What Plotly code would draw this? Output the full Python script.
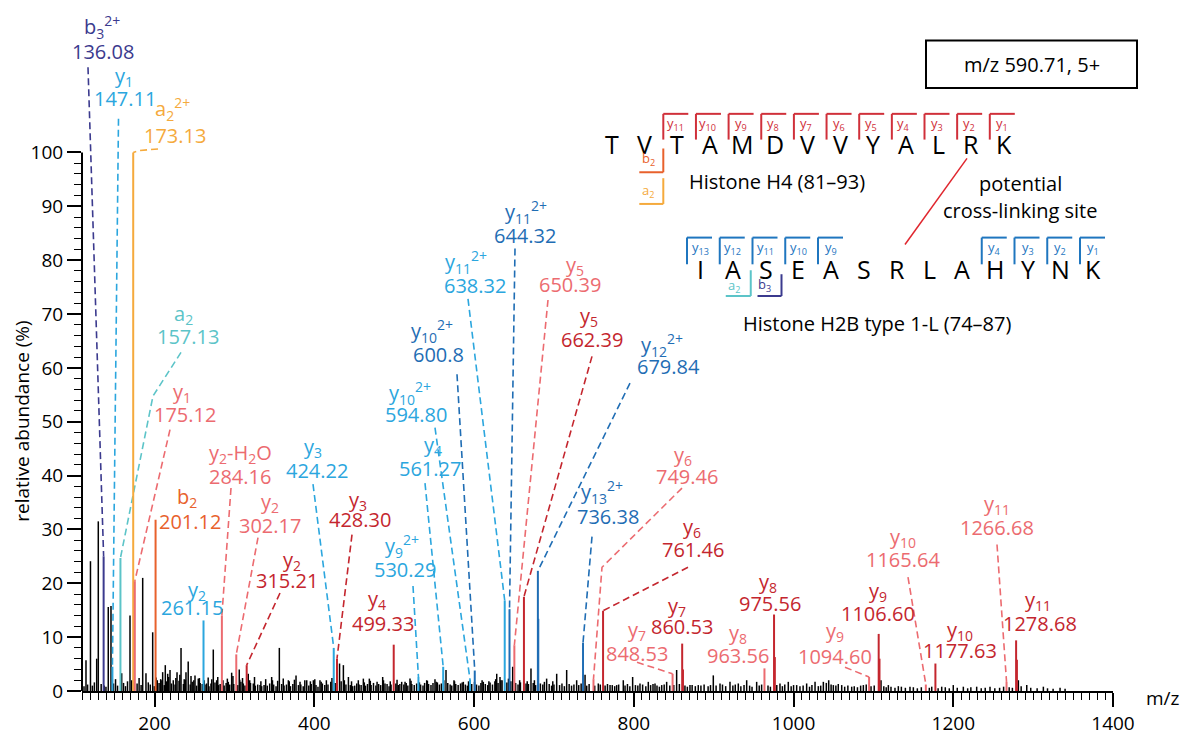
import plotly.graph_objects as go

# ---------------- spectrum data ----------------
# Annotated fragment ions: label text, m/z text (as printed), relative abundance, series
ion_name = [
    "b<sub>3</sub><sup>2+</sup>", "y<sub>1</sub>", "a<sub>2</sub>", "a<sub>2</sub><sup>2+</sup>",
    "y<sub>1</sub>", "b<sub>2</sub>", "y<sub>2</sub>", "y<sub>2</sub>-H<sub>2</sub>O",
    "y<sub>2</sub>", "y<sub>2</sub>", "y<sub>3</sub>", "y<sub>3</sub>", "y<sub>4</sub>",
    "y<sub>9</sub><sup>2+</sup>", "y<sub>4</sub>", "y<sub>10</sub><sup>2+</sup>",
    "y<sub>10</sub><sup>2+</sup>", "y<sub>11</sub><sup>2+</sup>", "y<sub>11</sub><sup>2+</sup>",
    "y<sub>5</sub>", "y<sub>5</sub>", "y<sub>12</sub><sup>2+</sup>", "y<sub>13</sub><sup>2+</sup>",
    "y<sub>6</sub>", "y<sub>6</sub>", "y<sub>7</sub>", "y<sub>7</sub>", "y<sub>8</sub>",
    "y<sub>8</sub>", "y<sub>9</sub>", "y<sub>9</sub>", "y<sub>10</sub>", "y<sub>10</sub>",
    "y<sub>11</sub>", "y<sub>11</sub>",
]
ion_mz_text = [
    "136.08", "147.11", "157.13", "173.13", "175.12", "201.12", "261.15", "284.16",
    "302.17", "315.21", "424.22", "428.30", "499.33", "530.29", "561.27", "594.80",
    "600.8", "638.32", "644.32", "650.39", "662.39", "679.84", "736.38", "749.46",
    "761.46", "848.53", "860.53", "963.56", "975.56", "1094.60", "1106.60", "1165.64",
    "1177.63", "1266.68", "1278.68",
]
ion_intensity = [
    25.0, 4.5, 24.7, 100.0, 20.4, 31.8, 13.1, 14.0, 6.8, 4.8, 8.0, 6.0, 8.6, 2.6, 4.5,
    2.2, 3.8, 16.8, 15.2, 8.5, 17.5, 22.3, 9.0, 2.2, 14.9, 3.2, 8.8, 4.2, 14.2, 2.6,
    10.6, 1.2, 5.1, 1.7, 9.4,
]
ion_series = [
    "H2B b", "H2B y A", "H2B a", "H4 a", "H4 y A", "H4 b", "H2B y A", "H4 y A",
    "H4 y A", "H4 y B", "H2B y A", "H4 y B", "H4 y B", "H2B y A", "H2B y A", "H2B y A",
    "H2B y B", "H2B y A", "H2B y B", "H4 y A", "H4 y B", "H2B y B", "H2B y B", "H4 y A",
    "H4 y B", "H4 y A", "H4 y B", "H4 y A", "H4 y B", "H4 y A", "H4 y B", "H4 y A",
    "H4 y B", "H4 y A", "H4 y B",
]
ion_mz = [float(t) for t in ion_mz_text]

# Isotope peaks drawn in the colour of their parent ion
iso_mz = [680.34, 861.53, 976.56, 1107.60, 1279.68]
iso_intensity = [13.4, 4.0, 6.3, 6.0, 5.8]
iso_series = ["H2B y B", "H4 y B", "H4 y B", "H4 y B", "H4 y B"]

# Unassigned peaks (black)
peak_mz = [
    114.0, 119.6, 127.4, 129.4, 141.9, 145.3, 158.7, 169.1, 171.2, 185.0, 189.1, 197.5,
    203.3, 210.0, 213.3, 216.3, 219.2, 223.3, 228.0, 233.0, 239.2, 242.0, 250.5, 254.6,
    265.0, 273.4, 277.6, 292.2, 296.4, 305.9, 317.2, 323.5, 331.9, 346.5, 356.1, 367.4,
    377.0, 390.4, 398.7, 407.0, 431.5, 436.3, 442.6, 453.0, 461.3, 468.8, 485.5, 488.4,
    509.3, 519.7, 540.6, 551.0, 564.8, 574.8, 586.5, 611.5, 628.3, 632.4, 648.3, 671.2,
    690.8, 703.4, 715.9, 728.4, 738.9, 755.5, 770.2, 778.5, 786.8, 798.5, 807.7, 818.1,
    826.5, 834.9, 841.1, 853.6, 870.3, 880.7, 899.5, 907.9, 920.4, 930.8, 941.3, 953.8,
    983.0, 993.4, 1003.9, 1016.4, 1026.9, 1037.3, 1049.8, 1060.3, 1072.8, 1087.4, 1109.5,
    1118.7, 1131.2, 1145.8, 1185.5, 1200.0, 1212.6, 1229.3, 1246.0, 1281.5, 1292.0,
    1312.8, 1333.7,
]
peak_intensity = [
    5.7, 24.1, 6.0, 31.5, 15.6, 15.8, 3.3, 14.0, 2.0, 21.0, 3.3, 10.9,
    2.0, 3.5, 4.8, 3.2, 3.9, 2.0, 3.5, 8.0, 3.5, 5.5, 2.9, 2.3,
    1.4, 7.7, 2.0, 1.7, 3.4, 4.0, 3.2, 1.4, 1.1, 2.6, 8.0, 2.0,
    2.9, 2.0, 2.0, 2.0, 5.1, 4.8, 2.6, 1.4, 2.3, 2.3, 2.6, 1.4,
    1.7, 2.3, 2.0, 2.2, 3.9, 2.0, 1.7, 1.7, 3.2, 2.6, 4.5, 4.2,
    2.3, 3.2, 3.9, 2.0, 3.0, 1.4, 1.1, 1.1, 2.0, 2.6, 1.4, 1.7,
    1.4, 1.1, 1.7, 3.9, 1.1, 1.1, 2.9, 1.4, 1.7, 1.4, 2.0, 1.7,
    1.4, 1.7, 1.1, 1.4, 1.7, 1.7, 1.1, 1.1, 0.8, 1.1, 2.0,
    1.1, 0.9, 0.8, 0.8, 1.1, 0.8, 0.8, 0.8, 2.0, 1.1,
    0.8, 0.6,
]

# Low-level chemical noise along the baseline
noise_mz = [
    111.5, 116.0, 122.0, 124.5, 133.0, 136.8, 139.0, 148.5, 151.0, 153.5, 161.0, 163.5,
    166.0, 178.0, 180.5, 183.0, 192.0, 194.5, 199.5, 205.5, 207.5, 212.0, 215.0, 221.0,
    225.5, 230.5, 236.0, 238.5, 244.5, 247.0, 252.5, 257.0, 259.5, 263.0, 268.0, 270.5,
    275.5, 280.0, 282.0, 287.0, 289.5, 294.0, 299.0, 304.0, 308.0, 311.0, 313.0, 320.0,
    326.0, 329.0, 334.0, 337.0, 341.0, 344.0, 349.0, 352.0, 359.0, 362.0, 365.0, 370.0,
    373.0, 380.0, 383.0, 386.0, 393.0, 396.0, 402.0, 404.5, 410.0, 413.0, 417.0, 420.5,
    426.0, 433.5, 439.5, 445.0, 448.0, 450.5, 456.0, 458.5, 464.0, 466.5, 471.0, 474.0,
    477.0, 480.5, 483.0, 491.0, 493.5, 496.0, 502.0, 505.0, 507.0, 512.0, 515.0, 517.0,
    522.0, 525.0, 528.0, 533.0, 536.0, 538.0, 543.0, 546.0, 548.5, 554.0, 556.5, 559.0,
    567.0, 570.0, 572.0, 577.0, 580.0, 583.0, 589.0, 591.5, 597.0, 603.0, 606.0, 608.5,
    614.0, 617.0, 620.0, 623.0, 626.0, 630.0, 635.0, 641.0, 646.0, 652.0, 655.0, 658.0,
    665.0, 668.0, 674.0, 677.0, 683.0, 686.0, 694.0, 697.0, 700.0, 707.0, 710.0, 713.0,
    719.0, 722.0, 725.0, 731.0, 734.0, 741.0, 744.0, 751.0, 758.0, 764.0, 767.0, 773.0,
    776.0, 781.0, 789.0, 792.0, 795.0, 802.0, 805.0, 811.0, 815.0, 821.0, 824.0, 829.0,
    832.0, 838.0, 845.0, 850.0, 857.0, 864.0, 867.0, 873.0, 877.0, 884.0, 888.0, 893.0,
    896.0, 903.0, 911.0, 915.0, 924.0, 927.0, 934.0, 938.0, 945.0, 948.0, 957.0, 960.0,
    968.0, 971.0, 979.0, 986.0, 989.0, 997.0, 1000.0, 1008.0, 1012.0, 1020.0, 1023.0,
    1031.0, 1034.0, 1041.0, 1044.0, 1047.0, 1053.0, 1056.0, 1064.0, 1068.0, 1076.0,
    1080.0, 1084.0, 1091.0, 1097.0, 1101.0, 1113.0, 1116.0, 1122.0, 1127.0, 1135.0,
    1140.0, 1150.0, 1155.0, 1160.0, 1170.0, 1173.0, 1181.0, 1190.0, 1195.0, 1205.0,
    1218.0, 1222.0, 1235.0, 1240.0, 1252.0, 1258.0, 1263.0, 1270.0, 1274.0, 1285.0,
    1297.0, 1305.0, 1318.0, 1325.0, 1340.0,
    201.8, 209.0, 217.5, 226.5, 231.5, 237.0, 245.5, 249.0, 256.0, 262.0, 267.0, 271.5,
    279.0, 285.5, 291.0, 298.0, 306.5, 310.0, 319.0, 325.0, 333.0, 339.0, 347.5, 354.0,
    361.0, 368.5, 375.0, 382.0, 388.0, 395.0, 400.5, 408.5, 415.0, 422.0, 437.5, 446.5,
    455.0, 462.5, 470.0, 478.5, 486.5, 495.0, 503.5, 513.5, 521.0, 531.5, 541.5, 552.5,
    562.0, 575.5, 585.0, 593.0, 600.5, 610.0, 618.5, 627.0, 633.5, 643.0, 657.0, 666.5,
    675.5, 688.0, 698.5,
]
noise_intensity = [
    0.9, 1.2, 1.0, 1.6, 1.3, 1.0, 0.8, 1.4, 2.2, 1.0, 1.5, 0.9,
    1.8, 1.4, 2.4, 1.1, 1.6, 1.2, 0.9, 1.5, 2.2, 1.1, 1.8, 1.4,
    1.2, 1.9, 1.3, 2.1, 1.2, 1.7, 1.0, 1.5, 1.3, 1.2, 0.9, 1.4,
    1.6, 1.1, 1.3, 1.0, 1.5, 1.2, 1.3, 1.1, 1.7, 1.4, 1.0, 1.5,
    1.0, 1.2, 0.9, 1.1, 1.0, 1.4, 1.2, 0.9, 1.3, 1.0, 1.2, 0.9,
    1.3, 1.1, 1.2, 0.9, 1.0, 1.3, 1.1, 0.8, 1.4, 1.1, 1.2, 1.7,
    1.5, 1.8, 1.2, 1.1, 0.9, 1.0, 1.2, 1.1, 1.0, 1.3, 1.1, 1.5,
    1.0, 1.3, 1.1, 1.3, 0.9, 1.2, 1.4, 1.1, 1.3, 1.2, 1.5, 1.0,
    1.3, 1.1, 1.4, 1.2, 1.0, 1.5, 1.3, 1.1, 1.5, 1.6, 1.2, 1.4,
    1.5, 1.2, 1.0, 1.3, 1.1, 1.4, 1.2, 1.0, 1.3, 1.2, 1.0, 1.5,
    1.3, 1.1, 1.6, 1.2, 1.8, 1.5, 2.0, 1.6, 1.8, 1.5, 1.2, 1.6,
    1.4, 1.3, 1.5, 1.1, 1.4, 1.2, 1.3, 1.0, 1.2, 1.1, 1.4, 0.9,
    1.3, 1.0, 1.2, 1.1, 1.4, 1.0, 1.3, 1.0, 1.2, 1.0, 1.3, 1.1,
    0.9, 1.2, 1.0, 1.3, 0.9, 1.1, 1.0, 1.2, 0.9, 1.1, 1.3, 1.0,
    0.8, 1.2, 1.0, 1.1, 1.3, 1.0, 0.8, 1.1, 0.9, 1.0, 1.2, 0.9,
    1.1, 1.0, 1.2, 0.9, 1.0, 1.2, 0.9, 1.1, 1.0, 0.8, 1.0, 1.2,
    1.0, 0.8, 1.1, 0.9, 1.2, 0.9, 1.1, 0.9, 1.0, 0.8, 1.1,
    0.9, 1.0, 1.5, 2.0, 1.2, 1.0, 1.3, 0.8, 1.0, 0.9,
    0.7, 1.0, 1.2, 0.9, 1.0, 0.9, 0.7, 0.8, 0.6, 0.8,
    0.6, 0.7, 0.5, 0.7, 0.6, 0.8, 0.5, 0.7, 0.5, 0.6,
    0.5, 0.7, 0.5, 0.6, 0.5, 0.6, 0.8, 0.7, 0.6, 0.9,
    0.6, 0.5, 0.5, 0.4, 0.4,
    2.5, 2.0, 2.6, 2.4, 3.0, 2.2, 2.8, 2.0, 2.4, 2.0, 2.5, 2.2,
    2.6, 2.0, 2.3, 2.8, 2.1, 2.4, 2.0, 2.6, 1.8, 2.2, 2.0, 1.9,
    2.3, 1.8, 2.1, 1.7, 2.0, 1.8, 2.2, 1.7, 2.0, 2.4, 2.0, 1.8,
    2.0, 1.6, 1.9, 1.7, 2.0, 1.8, 2.1, 1.7, 1.9, 1.6, 1.9, 1.7,
    2.0, 1.8, 1.6, 1.8, 1.7, 2.0, 1.8, 2.2, 2.0, 2.3, 2.0, 1.8,
    2.0, 1.7, 1.8,
]

# Axis ticks
x_tick_vals = [200, 400, 600, 800, 1000, 1200, 1400]
y_tick_vals = [0, 10, 20, 30, 40, 50, 60, 70, 80, 90, 100]

# Peptide sequences of the cross-linked pair
h4_seq = "TVTAMDVVYALRK"
h2b_seq = "IASEASRLAHYNK"
h4_y_ions = [11, 10, 9, 8, 7, 6, 5, 4, 3, 2, 1]
h2b_y_ions_n = [13, 12, 11, 10, 9]
h2b_y_ions_c = [4, 3, 2, 1]

# ---------------- styling ----------------
series_color = {
    "H2B b": "#3b3a8e",
    "H2B a": "#5cc4c8",
    "H4 a": "#f5aa3c",
    "H4 b": "#e8612c",
    "H2B y A": "#2ba6de",
    "H2B y B": "#1f6db4",
    "H4 y A": "#ec6b70",
    "H4 y B": "#c4262e",
}
H4_RED = "#d0303a"
H2B_BLUE = "#1f76bf"
FONT = "Open Sans"

W, H = 1184, 736
ML, MR, MT, MB = 82, 71, 0, 38
X_MIN, X_MAX = 109, 1400
Y_MAX = 128.3
PW = W - ML - MR
PH = H - MT - MB


def dx(px):
    return X_MIN + (px - ML) / PW * (X_MAX - X_MIN)


def dy(py):
    return (H - MB - py) / PH * Y_MAX


def paper_x(px):
    return (px - ML) / PW


def paper_y(py):
    return (H - MB - py) / PH


# Label placement: (name centre, value centre, leader waypoints) in pixels
label_layout = [
    ((102, 27), (103, 52), [(88, 68)]),
    ((124, 77), (125, 100), [(118.5, 120)]),
    ((183, 318), (188, 340), [(181, 356), (153, 400)]),
    ((172, 110), (175, 137), [(158, 150.5), (140, 152)]),
    ((182, 396), (185, 419), [(170, 434)]),
    ((187, 503), (190, 527), []),
    ((197, 596), (192, 614), []),
    ((240, 458), (240, 481), [(231, 493)]),
    ((270, 508), (270, 531), [(258, 543)]),
    ((292, 566), (287, 586), [(280, 599)]),
    ((313, 452), (317, 475), [(313, 489)]),
    ((358, 506), (360, 525), [(352, 540)]),
    ((377, 606), (383, 630), []),
    ((402, 552), (405, 575), [(413, 592)]),
    ((433, 450), (430, 473), [(425, 488)]),
    ((410, 397), (416, 419), [(435, 432)]),
    ((432, 334), (438, 358), [(457, 378)]),
    ((466, 265), (475, 288), [(468, 302)]),
    ((526, 214), (525, 238), [(515, 251)]),
    ((575, 268), (570, 287), [(548, 303)]),
    ((589, 320), (592, 343), [(592, 360)]),
    ((662, 348), (668, 370), [(630, 387)]),
    ((602, 497), (608, 522), [(592, 542)]),
    ((683, 460), (687, 481), [(682, 493), (602, 573)]),
    ((692, 533), (693, 555), [(688, 573)]),
    ((637, 637), (637, 660), [(637, 669)]),
    ((677, 613), (682, 633), []),
    ((738, 640), (738, 662), []),
    ((768, 588), (770, 610), []),
    ((835, 638), (835, 663), [(845, 674)]),
    ((878, 597), (878, 620), []),
    ((903, 543), (903, 565), [(908, 583)]),
    ((960, 637), (960, 657), []),
    ((997, 510), (997, 533), [(997, 550)]),
    ((1038, 607), (1040, 630), []),
]


def sticks(mzs, ints):
    xs, ys = [], []
    for m, h in zip(mzs, ints):
        xs += [m, m, None]
        ys += [0, h, None]
    return xs, ys


fig = go.Figure()

# black spectrum (noise + unassigned peaks)
bx, by = sticks(noise_mz + peak_mz, noise_intensity + peak_intensity)
fig.add_trace(go.Scatter(x=bx, y=by, mode="lines", line=dict(color="black", width=1.5),
                         hoverinfo="skip", showlegend=False))

# leader lines, one trace per series colour
for s, col in series_color.items():
    lx, ly = [], []
    for i, ser in enumerate(ion_series):
        if ser != s:
            continue
        pts = label_layout[i][2]
        if not pts:
            continue
        lx += [dx(p[0]) for p in pts] + [ion_mz[i], None]
        ly += [dy(p[1]) for p in pts] + [ion_intensity[i], None]
    if lx:
        fig.add_trace(go.Scatter(x=lx, y=ly, mode="lines",
                                 line=dict(color=col, width=1.6, dash="7px,4px"),
                                 hoverinfo="skip", showlegend=False))

# assigned peaks
for s, col in series_color.items():
    mz_s = [m for m, ser in zip(ion_mz + iso_mz, ion_series + iso_series) if ser == s]
    in_s = [h for h, ser in zip(ion_intensity + iso_intensity, ion_series + iso_series) if ser == s]
    sx, sy = sticks(mz_s, in_s)
    fig.add_trace(go.Scatter(x=sx, y=sy, mode="lines", line=dict(color=col, width=2),
                             hoverinfo="skip", showlegend=False))

annotations = []
shapes = []


def text(t, px, py, size, color="black", xanchor="center"):
    annotations.append(dict(text=t, x=paper_x(px), y=paper_y(py), xref="paper", yref="paper",
                            showarrow=False, xanchor=xanchor, yanchor="middle",
                            font=dict(family=FONT, size=size, color=color)))


def seg(x0, y0, x1, y1, color, width=2):
    shapes.append(dict(type="line", xref="paper", yref="paper",
                       x0=paper_x(x0), y0=paper_y(y0), x1=paper_x(x1), y1=paper_y(y1),
                       line=dict(color=color, width=width)))


# ion labels
for i, (name_xy, val_xy, _) in enumerate(label_layout):
    col = series_color[ion_series[i]]
    text(ion_name[i], name_xy[0], name_xy[1], 20, col)
    text(ion_mz_text[i], val_xy[0], val_xy[1], 20, col)

# y axis line (0-100 only), title and x axis unit
seg(ML, H - MB, ML, H - MB - 100 / Y_MAX * PH, "black", 2)
annotations.append(dict(text="relative abundance (%)", x=paper_x(22), y=paper_y(426),
                        xref="paper", yref="paper", showarrow=False, textangle=-90,
                        xanchor="center", yanchor="middle",
                        font=dict(family=FONT, size=19, color="black")))
text("m/z", 1163, 705, 19)

# precursor box
shapes.append(dict(type="rect", xref="paper", yref="paper",
                   x0=paper_x(926), x1=paper_x(1137), y0=paper_y(89), y1=paper_y(41),
                   line=dict(color="black", width=2), fillcolor="white"))
text("m/z 590.71, 5+", 1032, 65, 20)

# Histone H4 peptide with y-ion brackets
H4_X0, H4_STEP, H4_Y = 612, 32.65, 145
for k, aa in enumerate(h4_seq):
    text(aa, H4_X0 + k * H4_STEP, H4_Y, 25)
for j, n in enumerate(h4_y_ions):
    bxp = H4_X0 + (j + 2) * H4_STEP - 14
    seg(bxp, 141, bxp, 115, H4_RED)
    seg(bxp, 115, bxp + 25, 115, H4_RED)
    text(f"y<sub>{n}</sub>", bxp + 12, 125, 13, H4_RED)
# b2 / a2 brackets below V
vx = H4_X0 + 2 * H4_STEP - 14
seg(vx, 150, vx, 174, series_color["H4 b"])
seg(vx - 24, 174, vx, 174, series_color["H4 b"])
text("b<sub>2</sub>", vx - 15, 161, 13, series_color["H4 b"])
seg(vx, 180, vx, 206, series_color["H4 a"])
seg(vx - 24, 206, vx, 206, series_color["H4 a"])
text("a<sub>2</sub>", vx - 15, 193, 13, series_color["H4 a"])
text("Histone H4 (81\u201393)", 777, 183, 20)

# cross-link
seg(967, 160, 905, 247, "#e0262e", 1.5)
text("potential", 1020, 185, 20)
text("cross-linking site", 1020, 213, 20)

# Histone H2B peptide with y-ion brackets
H2B_X0, H2B_STEP, H2B_Y = 700, 32.75, 272
for k, aa in enumerate(h2b_seq):
    text(aa, H2B_X0 + k * H2B_STEP, H2B_Y, 25)
for j, n in enumerate(h2b_y_ions_n):
    bxp = H2B_X0 + j * H2B_STEP - 13
    seg(bxp, 267, bxp, 240, H2B_BLUE)
    seg(bxp, 240, bxp + 25, 240, H2B_BLUE)
    text(f"y<sub>{n}</sub>", bxp + 13, 251, 13, H2B_BLUE)
for j, n in enumerate(h2b_y_ions_c):
    bxp = H2B_X0 + (j + 9) * H2B_STEP - 13
    seg(bxp, 267, bxp, 240, H2B_BLUE)
    seg(bxp, 240, bxp + 25, 240, H2B_BLUE)
    text(f"y<sub>{n}</sub>", bxp + 13, 251, 13, H2B_BLUE)
# a2 / b3 brackets below A and S
ax_ = H2B_X0 + 1 * H2B_STEP + 18
seg(ax_, 273, ax_, 299, series_color["H2B a"])
seg(ax_ - 25, 299, ax_, 299, series_color["H2B a"])
text("a<sub>2</sub>", ax_ - 17, 289, 13, series_color["H2B a"])
sx_ = H2B_X0 + 2 * H2B_STEP + 16
seg(sx_, 277, sx_, 299, series_color["H2B b"])
seg(sx_ - 24, 299, sx_, 299, series_color["H2B b"])
text("b<sub>3</sub>", sx_ - 17, 288, 13, series_color["H2B b"])
text("Histone H2B type 1-L (74\u201387)", 877, 327, 20)

fig.update_layout(
    width=W, height=H,
    margin=dict(l=ML, r=MR, t=MT, b=MB, pad=0),
    paper_bgcolor="white", plot_bgcolor="white",
    showlegend=False,
    annotations=annotations,
    shapes=shapes,
    xaxis=dict(
        range=[X_MIN, X_MAX], tickmode="array", tickvals=x_tick_vals,
        ticks="outside", ticklen=14, tickwidth=2, tickcolor="black",
        showline=True, linewidth=2, linecolor="black",
        showgrid=False, zeroline=False,
        tickfont=dict(family=FONT, size=19, color="black"),
        minor=dict(dtick=10, tick0=0, ticks="outside", ticklen=7, tickwidth=1.3,
                   tickcolor="black", showgrid=False),
    ),
    yaxis=dict(
        range=[0, Y_MAX], tickmode="array", tickvals=y_tick_vals,
        ticks="outside", ticklen=14, tickwidth=2, tickcolor="black",
        showline=False, showgrid=False, zeroline=False,
        tickfont=dict(family=FONT, size=19, color="black"),
        minor=dict(tickmode="array", tickvals=list(range(0, 101, 2)), ticks="outside",
                   ticklen=7, tickwidth=1.3, tickcolor="black", showgrid=False),
    ),
)

fig.write_html("out.html")
